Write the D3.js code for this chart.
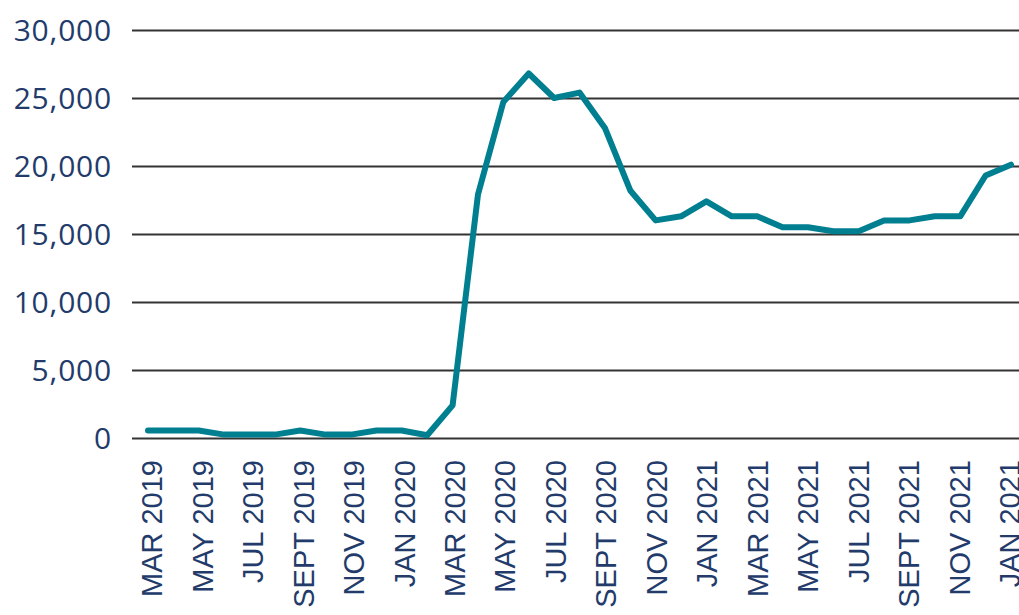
<!DOCTYPE html>
<html>
<head>
<meta charset="utf-8">
<script src="https://cdn.jsdelivr.net/npm/d3@7"></script>
<style>
  body { margin: 0; background: #fff; }
  svg { display: block; }
</style>
</head>
<body>
<div id="chart"></div>
<script>
// Monthly values, Mar 2019 .. Jan 2022
var months = ["Mar 2019","Apr 2019","May 2019","Jun 2019","Jul 2019","Aug 2019","Sep 2019","Oct 2019","Nov 2019","Dec 2019",
  "Jan 2020","Feb 2020","Mar 2020","Apr 2020","May 2020","Jun 2020","Jul 2020","Aug 2020","Sep 2020","Oct 2020","Nov 2020","Dec 2020",
  "Jan 2021","Feb 2021","Mar 2021","Apr 2021","May 2021","Jun 2021","Jul 2021","Aug 2021","Sep 2021","Oct 2021","Nov 2021","Dec 2021",
  "Jan 2022"];
var values = [550, 550, 550, 250, 250, 250, 550, 250, 250, 550,
  550, 200, 2400, 17900, 24700, 26800, 25000, 25400, 22800, 18200, 16000, 16300,
  17400, 16300, 16300, 15500, 15500, 15200, 15200, 16000, 16000, 16300, 16300, 19300,
  20100];
// every second month gets a label (last one reads "JAN 2021" in the original)
var tickLabels = ["MAR 2019","MAY 2019","JUL 2019","SEPT 2019","NOV 2019","JAN 2020","MAR 2020","MAY 2020",
  "JUL 2020","SEPT 2020","NOV 2020","JAN 2021","MAR 2021","MAY 2021","JUL 2021","SEPT 2021","NOV 2021","JAN 2021"];
var yTicks = [0, 5000, 10000, 15000, 20000, 25000, 30000];

var svgWidth = 1019;
var svgHeight = 615;

var svg = d3.select("#chart")
  .append("svg")
  .attr("width", svgWidth)
  .attr("height", svgHeight);

var x = d3.scalePoint()
  .domain(months)
  .range([148, 1011]);

// labels sit on a slightly different spread than the points
var labelMonths = months.filter((m, i) => i % 2 == 0);
var xLabel = d3.scalePoint()
  .domain(labelMonths)
  .range([152, 1010]);

var y = d3.scaleLinear()
  .domain([0, 30000])
  .range([438, 30]);

// gridlines + y labels
var yAxis = d3.axisLeft(y)
  .tickValues(yTicks)
  .tickSize(-(svgWidth - 132))
  .tickPadding(20)
  .tickFormat(d3.format(","));

svg.append("g")
  .attr("transform", "translate(132,0)")
  .call(yAxis)
  .call(g => g.select(".domain").remove())
  .call(g => g.selectAll(".tick line")
    .attr("stroke", "#333")
    .attr("stroke-width", 1.8))
  .call(g => g.selectAll(".tick text")
    .attr("fill", "#233b6b")
    .attr("font-family", "'Open Sans', sans-serif")
    .attr("font-size", 30)
    .attr("letter-spacing", 0.8)
    .attr("dy", "0.35em"));

// x labels, rotated
svg.append("g")
  .selectAll("text")
  .data(labelMonths)
  .enter()
  .append("text")
  .attr("transform", d => `translate(${xLabel(d)}, 460) rotate(-90)`)
  .attr("text-anchor", "end")
  .attr("dy", "0.35em")
  .attr("fill", "#233b6b")
  .attr("font-family", "'Liberation Sans', Arial, sans-serif")
  .attr("font-size", 29)
  .text((d, i) => tickLabels[i]);

// the line
var line = d3.line()
  .x((d, i) => x(months[i]))
  .y(d => y(d));

svg.append("path")
  .datum(values)
  .attr("d", line)
  .attr("fill", "none")
  .attr("stroke", "#007f91")
  .attr("stroke-width", 6)
  .attr("stroke-linejoin", "round")
  .attr("stroke-linecap", "round");
</script>
</body>
</html>
